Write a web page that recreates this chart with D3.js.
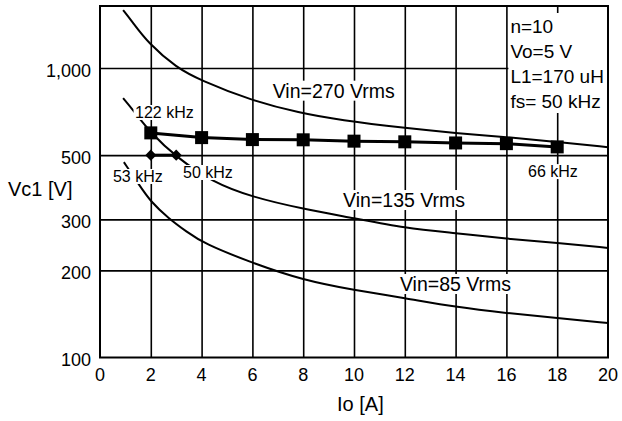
<!DOCTYPE html>
<html>
<head>
<meta charset="utf-8">
<script src="https://cdn.jsdelivr.net/npm/d3@7/dist/d3.min.js"></script>
<style>
  html, body { margin: 0; padding: 0; background: #fff; }
  svg text { font-family: "Liberation Sans", Arial, Helvetica, sans-serif; fill: #000; }
</style>
</head>
<body>
<svg id="chart" width="622" height="421"></svg>
<script>
// ---- data ----
const xTicks = [0, 2, 4, 6, 8, 10, 12, 14, 16, 18, 20];
const yTicks = [100, 200, 300, 500, 1000];
const yTickLabels = ["100", "200", "300", "500", "1,000"];

const vin270 = [[0.91,1586],[1.25,1453],[1.89,1220],[3.03,1000],[3.94,909],[5.9,775],[7.87,699],[9.45,661],[12,620],[14,596],[16,578],[18,555],[20,533]];
const vin135 = [[0.91,787],[1.3,716],[2,596],[3,493],[4.41,404],[6,358],[8,326],[10,303],[12,280],[14,269],[16,257],[18,249],[20,239]];
const vin85  = [[0.94,473],[1.55,394],[2,345],[2.69,303],[3.41,272],[4.07,248],[6,212],[8,185],[10,171],[12,160.5],[14,149.4],[16,142.4],[18,136.9],[20,131.6]];

const squareX = [2, 4, 6, 8, 10, 12, 14, 16, 18];
const squareY = [597, 575, 566, 565, 559, 556, 551, 548, 534];
const diamondX = [2, 3];
const diamondY = [500, 500];

const curveLabels = [
  { text: "Vin=270 Vrms", x: 6.8,  y: 790 },
  { text: "Vin=135 Vrms", x: 9.57, y: 331 },
  { text: "Vin=85 Vrms",  x: 11.81, y: 169.7 }
];
const freqLabels = [
  { text: "122 kHz", x: 1.38, y: 672 },
  { text: "53 kHz",  x: 0.51, y: 404 },
  { text: "50 kHz",  x: 3.27, y: 417 },
  { text: "66 kHz",  x: 16.85, y: 420 }
];
const params = ["n=10", "Vo=5 V", "L1=170 uH", "fs= 50 kHz"];

// ---- layout ----
const svg = d3.select("#chart");
const L = 100, R = 608, T = 6, B = 357.5;
const x = d3.scaleLinear().domain([0, 20]).range([L, R]);
const y = d3.scaleLog().domain([100, 1638]).range([B, T]);

// gridlines via d3 axes
const gx = svg.append("g").attr("class", "gridx")
  .attr("transform", `translate(0,${B})`)
  .call(d3.axisBottom(x).tickValues(xTicks.filter(d => d > 0 && d < 20))
    .tickSize(-(B - T)).tickFormat(""));
const gy = svg.append("g").attr("class", "gridy")
  .attr("transform", `translate(${L},0)`)
  .call(d3.axisLeft(y).tickValues(yTicks.filter(d => d > 100))
    .tickSize(-(R - L)).tickFormat(""));
[gx, gy].forEach(g => {
  g.select(".domain").remove();
  g.selectAll(".tick line").attr("stroke", "#000").attr("stroke-width", 1.6);
});

// parameter box (white background covering grid)
svg.append("rect")
  .attr("x", x(16) + 2).attr("y", T + 7)
  .attr("width", R - x(16) - 3).attr("height", 100)
  .attr("fill", "#fff");

// axes tick labels
svg.append("g").selectAll("text").data(xTicks).enter().append("text")
  .attr("x", d => x(d)).attr("y", B + 23)
  .attr("text-anchor", "middle").attr("font-size", 18)
  .text(d => d);
svg.append("g").selectAll("text").data(yTicks).enter().append("text")
  .attr("x", L - 9).attr("y", d => y(d) + 8.5)
  .attr("text-anchor", "end").attr("font-size", 18)
  .text((d, i) => yTickLabels[i]);

// axis titles
svg.append("text").attr("x", 8).attr("y", 196).attr("font-size", 20).text("Vc1 [V]");
svg.append("text").attr("x", 337).attr("y", 411).attr("font-size", 20).text("Io [A]");

// curves
const curveGen = d3.line().x(d => x(d[0])).y(d => y(d[1])).curve(d3.curveBasis);
[vin270, vin135, vin85].forEach(s => {
  svg.append("path").datum(s).attr("d", curveGen)
    .attr("fill", "none").attr("stroke", "#000").attr("stroke-width", 2);
});

// operating point series
const sq = squareX.map((d, i) => [d, squareY[i]]);
const dm = diamondX.map((d, i) => [d, diamondY[i]]);
const straight = d3.line().x(d => x(d[0])).y(d => y(d[1]));
svg.append("path").datum(sq).attr("d", straight).attr("fill", "none").attr("stroke", "#000").attr("stroke-width", 3);
svg.append("path").datum(dm).attr("d", straight).attr("fill", "none").attr("stroke", "#000").attr("stroke-width", 3);
svg.append("g").selectAll("rect").data(sq).enter().append("rect")
  .attr("x", d => x(d[0]) - 6.5).attr("y", d => y(d[1]) - 6.5)
  .attr("width", 13).attr("height", 13).attr("fill", "#000");
svg.append("g").selectAll("path").data(dm).enter().append("path")
  .attr("d", d3.symbol(d3.symbolDiamond2, 80))
  .attr("transform", d => `translate(${x(d[0])},${y(d[1])})`)
  .attr("fill", "#000");

// labels with white background boxes
function boxedLabels(data, size, pad) {
  const g = svg.append("g");
  const items = g.selectAll("g").data(data).enter().append("g");
  const rects = items.append("rect").attr("fill", "#fff");
  const texts = items.append("text")
    .attr("x", d => x(d.x)).attr("y", d => y(d.y))
    .attr("font-size", size).text(d => d.text);
  texts.each(function(d, i) {
    const b = this.getBBox();
    d3.select(rects.nodes()[i])
      .attr("x", b.x - pad).attr("y", b.y + 1)
      .attr("width", b.width + 2 * pad).attr("height", b.height - 2);
  });
}
boxedLabels(curveLabels, 19.5, 1);
boxedLabels(freqLabels, 16, 1.5);

// frame
svg.append("rect").attr("x", L).attr("y", T).attr("width", R - L).attr("height", B - T)
  .attr("fill", "none").attr("stroke", "#000").attr("stroke-width", 2);

// parameters
svg.append("g").selectAll("text").data(params).enter().append("text")
  .attr("x", x(16) + 4).attr("y", (d, i) => 33 + i * 25)
  .attr("font-size", 19)
  .text(d => d);
</script>
</body>
</html>
